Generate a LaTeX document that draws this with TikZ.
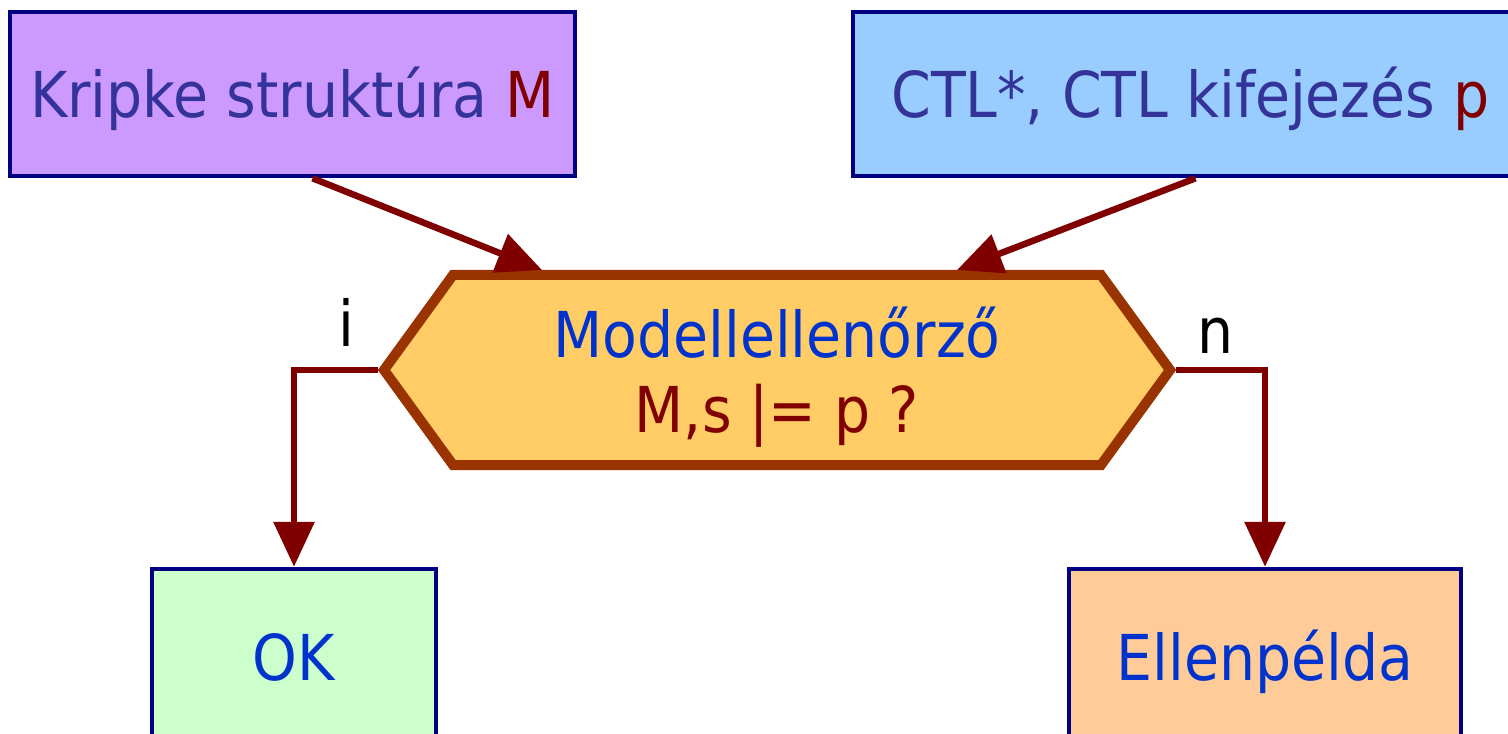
\documentclass[tikz,border=0pt]{standalone}
\usepackage{fontspec}
\setmainfont{DejaVu Sans Condensed}
\usetikzlibrary{arrows.meta,shapes.symbols}
\definecolor{navyb}{HTML}{000080}
\definecolor{darkred}{HTML}{800000}
\definecolor{ink}{HTML}{333399}
\definecolor{textblue}{HTML}{0033CC}
\definecolor{lila}{HTML}{CC99FF}
\definecolor{sky}{HTML}{99CCFF}
\definecolor{gold}{HTML}{FFCC66}
\definecolor{rust}{HTML}{993300}
\definecolor{mint}{HTML}{CCFFCC}
\definecolor{peach}{HTML}{FFCC99}

\begin{document}
\begin{tikzpicture}[
    box/.style={draw=navyb,line width=0.45mm,text depth=0pt,text height=4.7mm},
    wire/.style={draw=darkred,line width=0.65mm},
    >={Triangle[length=4.5mm,width=4mm]},
    font=\fontsize{18}{21.3}\selectfont]
    \useasboundingbox (0,0) rectangle (15.08,7.33);
    \clip (0,0) rectangle (15.08,7.33);
    \node[box,fill=lila,text=ink,minimum width=5.65cm,minimum height=1.64cm] (kripke) at (2.925,6.39) {Kripke struktúra \textcolor{darkred}{M}};
    \node[box,fill=sky,text=ink,minimum width=6.75cm,minimum height=1.64cm] (ctl) at (11.905,6.39) {CTL*, CTL kifejezés \textcolor{darkred}{p}};
    \node[signal,signal to=east and west,signal pointer angle=108,draw=rust,fill=gold,line width=1mm,minimum width=7.86cm,minimum height=1.9cm,align=center,text depth=0pt,text=textblue] (chk) at (7.77,3.63) {Modellellenőrző\\\textcolor{darkred}{M,s |= p ?}};
    \node[box,fill=mint,text=textblue,minimum width=2.84cm,minimum height=1.76cm] (ok) at (2.94,0.76) {OK};
    \node[box,fill=peach,text=textblue,minimum width=3.92cm,minimum height=1.76cm] (ellen) at (12.65,0.76) {Ellenpélda};
    \draw[wire,->] ([xshift=2mm]kripke.south) -- ([xshift=-23.5mm]chk.north);
    \draw[wire,->] ([xshift=0.5mm]ctl.south) -- ([xshift=18mm]chk.north);
    \draw[wire,->] (chk.west) -| (ok.north);
    \draw[wire,->] (chk.east) -| (ellen.north);
    \node[anchor=base] (yes) at (3.46,3.86) {i};
    \node[anchor=base] (no) at (12.16,3.80) {n};
\end{tikzpicture}
\end{document}
